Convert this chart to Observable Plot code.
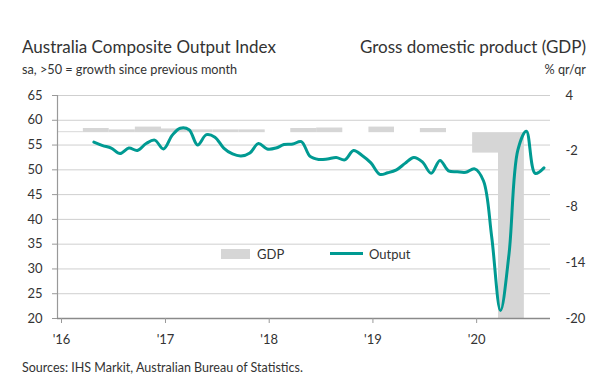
<!DOCTYPE html>
<html>
<head>
<meta charset="utf-8">
<script src="https://cdn.jsdelivr.net/npm/d3@7"></script>
<script src="https://cdn.jsdelivr.net/npm/@observablehq/plot@0.6"></script>
<style>
  body { margin: 0; background: #fff; }
  #wrap { position: relative; width: 600px; height: 388px; font-family: Lato, "Noto Sans", sans-serif; color: #333; overflow: hidden; }
  .t { position: absolute; white-space: nowrap; }
  #chart { position: absolute; left: 0; top: 80px; }
</style>
</head>
<body>
<div id="wrap">
  <div class="t" style="left:22px; top:36px; font-size:17px;">Australia Composite Output Index</div>
  <div class="t" style="left:22px; top:61px; font-size:12.7px;">sa, &gt;50 = growth since previous month</div>
  <div class="t" style="right:14px; top:36px; font-size:17px;">Gross domestic product (GDP)</div>
  <div class="t" style="right:14px; top:61px; font-size:12.7px;">% qr/qr</div>
  <div id="chart"></div>
  <div class="t" style="left:221px; top:249px; width:29px; height:10px; background:#d6d6d6;"></div>
  <div class="t" style="left:257px; top:246px; font-size:13px;">GDP</div>
  <div class="t" style="left:330px; top:252px; width:33px; height:3px; background:#009a92;"></div>
  <div class="t" style="left:369px; top:246px; font-size:13px;">Output</div>
  <div class="t" style="left:22px; top:360px; font-size:12.5px;">Sources: IHS Markit, Australian Bureau of Statistics.</div>
</div>
<script>
// Output index, monthly, May 2016 - Sep 2020
const outputStart = "2016-05";
const outputValues = [
  55.6, 54.9, 54.4, 53.3, 54.4, 53.9, 55.3, 56.0,
  54.2, 57.0, 58.4, 58.1, 55.0, 57.1, 56.6, 54.4, 53.2, 52.8, 53.4, 55.3,
  54.2, 54.4, 55.1, 55.2, 55.7, 52.7, 52.1, 52.2, 52.5, 52.0, 53.9, 52.9,
  51.4, 49.1, 49.4, 50.0, 51.3, 52.5, 51.6, 49.3, 51.9, 49.8, 49.6, 49.5,
  50.2, 47.8, 36.5, 21.6, 33.0, 54.0, 57.8, 49.3, 50.4
];
// GDP % q/q, quarterly, Q1 2016 - Q2 2020
const gdpStart = "2016-01";
const gdpValues = [0.1, 0.45, 0.3, 0.6, 0.4, 0.3, 0.3, 0.3, 0, 0.45, 0.5, 0, 0.6, 0, 0.45, 0, -2.2, -20];

const leftTicks = [20, 25, 30, 35, 40, 45, 50, 55, 60, 65];
const rightTicks = [4, -2, -8, -14, -20];
const leftDomain = [20, 65];
const rightDomain = [-20, 4];
const xDomain = [new Date("2016-01-01"), new Date("2020-10-01")];
const yearTicks = d3.utcYears(new Date("2016-01-01"), new Date("2020-02-01"));

// map right-axis (GDP) values onto the left scale
const toLeft = g => leftDomain[0] + (g - rightDomain[0]) * (leftDomain[1] - leftDomain[0]) / (rightDomain[1] - rightDomain[0]);
const fromLeft = v => rightDomain[0] + (v - leftDomain[0]) * (rightDomain[1] - rightDomain[0]) / (leftDomain[1] - leftDomain[0]);

const [oy, om] = outputStart.split("-").map(Number);
const output = outputValues.map((v, i) => ({date: new Date(Date.UTC(oy, om - 1 + i, 8)), value: v}));
const [gy, gm] = gdpStart.split("-").map(Number);
const gdp = gdpValues.map((v, i) => ({
  start: new Date(Date.UTC(gy, gm - 1 + 3 * i, 1)),
  end: new Date(Date.UTC(gy, gm - 1 + 3 * i + 3, 1)),
  value: v
}));

const chart = Plot.plot({
  width: 600,
  height: 270,
  marginLeft: 57,
  marginRight: 50,
  marginTop: 15,
  marginBottom: 32,
  style: {fontFamily: "Lato, 'Noto Sans', sans-serif", fontSize: "13px", color: "#333", background: "transparent"},
  x: {type: "utc", domain: xDomain},
  y: {domain: leftDomain},
  marks: [
    Plot.gridY(leftTicks, {stroke: "#cfcfcf", strokeOpacity: 1}),
    Plot.rect(gdp, {x1: "start", x2: "end", y1: () => toLeft(0), y2: d => toLeft(d.value), fill: "#d6d6d6"}),
    Plot.ruleX([xDomain[0]], {stroke: "#999", strokeWidth: 1.2}),
    Plot.ruleY([leftDomain[0]], {stroke: "#8a8a8a", strokeWidth: 1.5}),
    Plot.line(output, {x: "date", y: "value", stroke: "#009a92", strokeWidth: 3, curve: "catmull-rom"}),
    Plot.axisY(leftTicks, {anchor: "left", tickSize: 5, tickPadding: 10, stroke: "#999", fill: "#333", fontSize: 13, label: null}),
    Plot.axisY(rightTicks.map(toLeft), {anchor: "right", tickSize: 0, tickPadding: 15, fill: "#333", fontSize: 13, tickFormat: v => String(Math.round(fromLeft(v))), label: null}),
    Plot.axisX(yearTicks, {tickSize: 5, tickPadding: 11, stroke: "#999", fill: "#333", fontSize: 13, dx: 4, tickFormat: d => "'" + String(d.getUTCFullYear()).slice(2), label: null})
  ]
});
document.getElementById("chart").appendChild(chart);
</script>
</body>
</html>
